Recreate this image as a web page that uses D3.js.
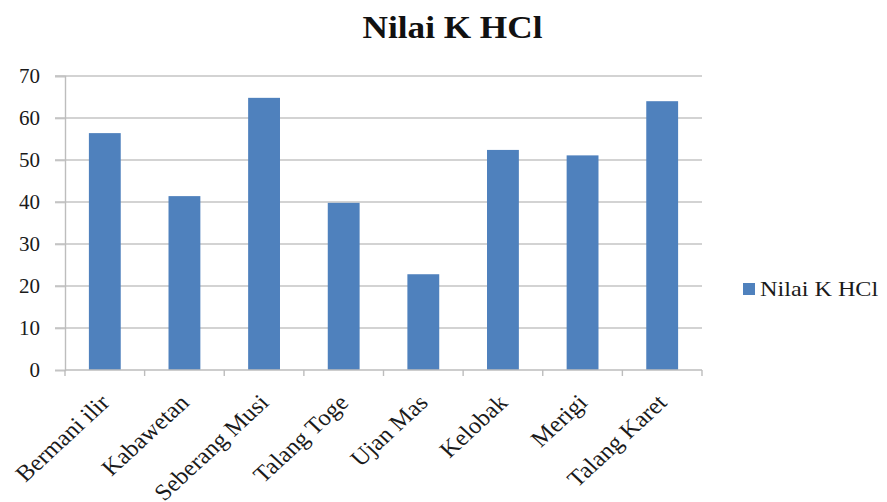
<!DOCTYPE html>
<html>
<head>
<meta charset="utf-8">
<script src="https://cdn.jsdelivr.net/npm/d3@7"></script>
<style>
  body { margin: 0; background: #fff; }
  svg { display: block; }
  text { font-family: "Liberation Serif", "Times New Roman", serif; }
</style>
</head>
<body>
<svg id="chart" width="887" height="502"></svg>
<script>
// Nilai K HCl per lokasi
const categories = ["Bermani ilir", "Kabawetan", "Seberang Musi", "Talang Toge", "Ujan Mas", "Kelobak", "Merigi", "Talang Karet"];
const values = [56.4, 41.4, 64.8, 39.8, 22.8, 52.4, 51.1, 64.0];
const yTicks = [0, 10, 20, 30, 40, 50, 60, 70];
const seriesName = "Nilai K HCl";

const serif = "Liberation Serif, Times New Roman, serif";
const svg = d3.select("#chart");
const margin = { left: 65, right: 185, top: 76, bottom: 132 };
const width = 887 - margin.left - margin.right;
const height = 502 - margin.top - margin.bottom;

const g = svg.append("g").attr("transform", `translate(${margin.left},${margin.top})`);

const x = d3.scaleBand().domain(categories).range([0, width]).paddingInner(0.6).paddingOuter(0.3);
const y = d3.scaleLinear().domain([0, 70]).range([height, 0]);

// gridlines
g.append("g").selectAll("line").data(yTicks.filter(t => t > 0)).join("line")
  .attr("x1", -10).attr("x2", width)
  .attr("y1", d => y(d)).attr("y2", d => y(d))
  .attr("stroke", "#c4c4c4").attr("stroke-width", 1.6);

// bars
g.append("g").selectAll("rect").data(categories).join("rect")
  .attr("x", d => x(d))
  .attr("y", (d, i) => y(values[i]))
  .attr("width", x.bandwidth())
  .attr("height", (d, i) => height - y(values[i]))
  .attr("fill", "#4f81bd");

// y axis
const yAxis = g.append("g")
  .call(d3.axisLeft(y).tickValues(yTicks).tickSize(10).tickPadding(4));
yAxis.attr("font-family", serif);
yAxis.select(".domain").attr("stroke", "#bdbdbd").attr("stroke-width", 1.4);
yAxis.selectAll(".tick line").attr("stroke", "#c4c4c4").attr("stroke-width", 1.6);
yAxis.selectAll(".tick text").attr("font-size", 21).attr("fill", "#1a1a1a")
  .attr("font-family", serif).attr("dx", -11);

// x axis
const step = x.step();
const xAxis = g.append("g").attr("transform", `translate(0,${height})`);
xAxis.append("line").attr("x1", 0).attr("x2", width).attr("y1", 0).attr("y2", 0)
  .attr("stroke", "#bdbdbd").attr("stroke-width", 1.6);
xAxis.selectAll(".tk").data(d3.range(categories.length + 1)).join("line")
  .attr("class", "tk")
  .attr("x1", i => i * step).attr("x2", i => i * step)
  .attr("y1", 0).attr("y2", 6)
  .attr("stroke", "#bdbdbd").attr("stroke-width", 1.4);
xAxis.selectAll("text").data(categories).join("text")
  .attr("transform", d => `translate(${x(d) + x.bandwidth() / 2 + 6},34) scale(1.08,1) rotate(-45)`)
  .attr("text-anchor", "end")
  .attr("font-family", serif)
  .attr("font-size", 23)
  .attr("fill", "#1a1a1a")
  .text(d => d);

// title
svg.append("text")
  .attr("transform", "translate(452.5,38) scale(1.1,1)")
  .attr("text-anchor", "middle")
  .attr("font-family", serif)
  .attr("font-size", 32).attr("font-weight", "bold")
  .attr("fill", "#111")
  .text(seriesName);

// legend
const lg = svg.append("g");
lg.append("rect").attr("x", 743).attr("y", 283).attr("width", 12).attr("height", 12).attr("fill", "#4f81bd");
lg.append("text")
  .attr("transform", "translate(760,295.5) scale(1.1,1)")
  .attr("font-family", serif)
  .attr("font-size", 22).attr("fill", "#1a1a1a").text(seriesName);
</script>
</body>
</html>
